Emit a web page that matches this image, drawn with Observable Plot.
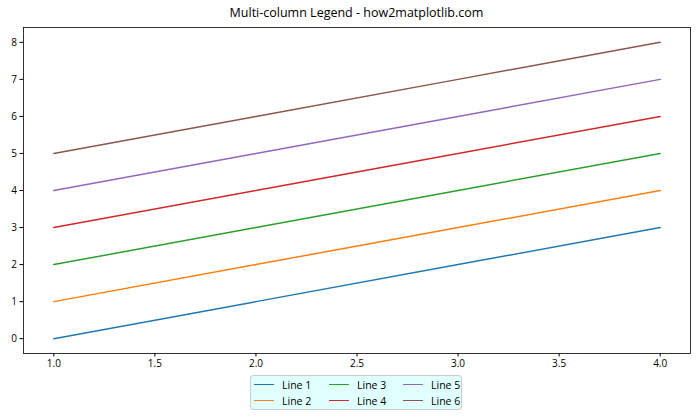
<!DOCTYPE html>
<html>
<head>
<meta charset="utf-8">
<script src="https://cdn.jsdelivr.net/npm/d3@7"></script>
<script src="https://cdn.jsdelivr.net/npm/@observablehq/plot@0.6"></script>
<style>
  body { margin: 0; background: #fff; font-family: "Open Sans", "DejaVu Sans", sans-serif; }
  #wrap { position: relative; width: 700px; height: 420px; }
  #title { position: absolute; top: 4px; left: 23px; width: 667px; text-align: center; font-size: 12.5px; color: #000; }
  #legend { position: absolute; left: 250px; top: 375px; width: 212px; height: 35px; box-sizing: border-box;
    background: #e0ffff; border: 1px solid #cccccc; border-radius: 3px; font-size: 10.5px; color: #000; }
  .item { position: absolute; display: flex; align-items: center; height: 15px; white-space: nowrap; }
  .item span.h { display: inline-block; width: 20px; height: 1.6px; margin-right: 8px; }
</style>
</head>
<body>
<div id="wrap">
  <div id="title">Multi-column Legend - how2matplotlib.com</div>
  <div id="chart"></div>
  <div id="legend"></div>
</div>
<script>
const xs = [1, 2, 3, 4];
const seriesNames = ["Line 1", "Line 2", "Line 3", "Line 4", "Line 5", "Line 6"];
const seriesValues = [
  [0, 1, 2, 3],
  [1, 2, 3, 4],
  [2, 3, 4, 5],
  [3, 4, 5, 6],
  [4, 5, 6, 7],
  [5, 6, 7, 8]
];
const colors = ["#1f77b4", "#ff7f0e", "#2ca02c", "#d62728", "#9467bd", "#8c564b"];
const xTicks = [1.0, 1.5, 2.0, 2.5, 3.0, 3.5, 4.0];
const yTicks = [0, 1, 2, 3, 4, 5, 6, 7, 8];

const data = [];
seriesNames.forEach((name, i) => {
  xs.forEach((x, j) => data.push({ series: name, x, y: seriesValues[i][j] }));
});

const chart = Plot.plot({
  width: 700,
  height: 420,
  marginTop: 27,
  marginBottom: 67,
  marginLeft: 23,
  marginRight: 10,
  style: { fontFamily: "'Open Sans', 'DejaVu Sans', sans-serif", fontSize: "10px", color: "#000", background: "#fff" },
  x: { domain: [0.85, 4.15], label: null },
  y: { domain: [-0.4, 8.4], label: null },
  color: { domain: seriesNames, range: colors },
  marks: [
    Plot.line(data, { x: "x", y: "y", z: "series", stroke: "series", strokeWidth: 1.5 }),
    Plot.frame({ stroke: "#000", strokeWidth: 0.8 }),
    Plot.axisX({ ticks: xTicks, tickFormat: d3.format(".1f"), tickSize: 3.5, tickPadding: 3, stroke: "#000", label: null }),
    Plot.axisY({ ticks: yTicks, tickFormat: d3.format("d"), tickSize: 3.5, tickPadding: 3, stroke: "#000", label: null })
  ]
});
document.getElementById("chart").appendChild(chart);

const legend = document.getElementById("legend");
const colX = [3, 78, 152];
const rowY = [1, 17];
seriesNames.forEach((name, i) => {
  const col = Math.floor(i / 2), row = i % 2;
  const el = document.createElement("div");
  el.className = "item";
  el.style.left = colX[col] + "px";
  el.style.top = rowY[row] + "px";
  const h = document.createElement("span");
  h.className = "h";
  h.style.background = colors[i];
  const t = document.createElement("span");
  t.textContent = name;
  el.appendChild(h);
  el.appendChild(t);
  legend.appendChild(el);
});
</script>
</body>
</html>
